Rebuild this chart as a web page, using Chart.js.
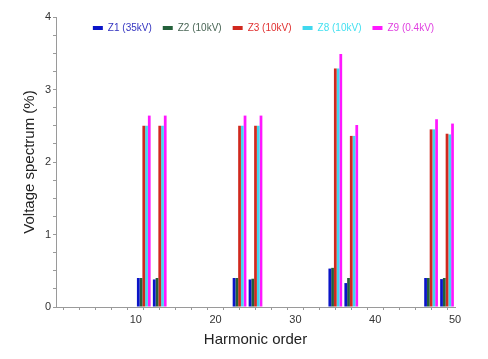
<!DOCTYPE html>
<html>
<head>
<meta charset="utf-8">
<script src="https://cdn.jsdelivr.net/npm/chart.js@4"></script>
<style>
  html, body { margin: 0; padding: 0; background: #fff; }
  #wrap { width: 488px; height: 359px; }
</style>
</head>
<body>
<div id="wrap"><canvas id="c" width="488" height="359"></canvas></div>
<script>
const harmonics = [11, 13, 23, 25, 35, 37, 47, 49];
const z1 = [0.40, 0.38, 0.40, 0.38, 0.53, 0.33, 0.40, 0.385];
const z2 = [0.40, 0.40, 0.40, 0.39, 0.54, 0.40, 0.40, 0.40];
const z3 = [2.50, 2.50, 2.50, 2.50, 3.29, 2.36, 2.45, 2.39];
const z8 = [2.50, 2.50, 2.50, 2.50, 3.29, 2.36, 2.45, 2.38];
const z9 = [2.64, 2.64, 2.64, 2.64, 3.49, 2.51, 2.59, 2.53];
const seriesNames = ['Z1 (35kV)', 'Z2 (10kV)', 'Z3 (10kV)', 'Z8 (10kV)', 'Z9 (0.4kV)'];
const barColors = ['#0a14c8', '#24603a', '#d0281e', '#40d8ee', '#ff18ff'];
const textColors = ['#3434c0', '#4a6656', '#e03030', '#44e0f0', '#e040e0'];
const xTickLabels = [10, 20, 30, 40, 50];
const yTickLabels = [0, 1, 2, 3, 4];

const allSeries = [z1, z2, z3, z8, z9];
const datasets = allSeries.map((vals, i) => ({
  label: seriesNames[i],
  data: harmonics.map((h, j) => ({ x: h, y: vals[j] })),
  backgroundColor: barColors[i],
  borderWidth: 0,
  barPercentage: 1.0,
  categoryPercentage: 0.86
}));

const legendShift = {
  id: 'legendShift',
  afterLayout(chart) {
    const l = chart.legend;
    if (!l) return;
    l.top += 12;
    l.height = 30;
    l.bottom = l.top + 30;
    l.left += 36; l.right += 36;
  }
};

const tickFont = { family: 'Liberation Sans, Arial, sans-serif', size: 11 };
const titleFont = { family: 'Liberation Sans, Arial, sans-serif', size: 15 };

new Chart(document.getElementById('c'), {
  type: 'bar',
  data: { datasets },
  options: {
    responsive: false,
    animation: false,
    devicePixelRatio: 1,
    layout: { padding: { left: 0, right: 33, top: 0, bottom: 0 } },
    plugins: {
      tooltip: { enabled: false },
      legend: {
        position: 'top',
        align: 'center',
        maxHeight: 17,
        labels: {
          boxWidth: 10,
          boxHeight: 4,
          padding: 11,
          font: { family: 'Liberation Sans, Arial, sans-serif', size: 10 },
          generateLabels(chart) {
            return chart.data.datasets.map((ds, i) => ({
              text: ds.label,
              fillStyle: barColors[i],
              strokeStyle: barColors[i],
              lineWidth: 0,
              fontColor: textColors[i],
              hidden: false,
              datasetIndex: i
            }));
          }
        }
      }
    },
    scales: {
      x: {
        type: 'linear',
        min: 0,
        max: 50,
        offset: false,
        grid: { drawOnChartArea: false, color: '#9a9a9a', tickLength: 3 },
        border: { color: '#9a9a9a', width: 1 },
        ticks: {
          stepSize: 2,
          autoSkip: false,
          maxRotation: 0,
          padding: 3,
          color: '#333',
          font: tickFont,
          callback: (v) => xTickLabels.includes(v) ? String(v) : ''
        },
        title: {
          display: true,
          text: 'Harmonic order',
          color: '#222',
          font: titleFont,
          padding: { top: 0, bottom: 10 }
        },
        afterFit(scale) { scale.height = 52; }
      },
      y: {
        min: 0,
        max: 4,
        grid: { drawOnChartArea: false, color: '#9a9a9a', tickLength: 3 },
        border: { color: '#9a9a9a', width: 1 },
        ticks: {
          stepSize: 0.25,
          autoSkip: false,
          padding: 2,
          color: '#333',
          font: tickFont,
          callback: (v) => yTickLabels.includes(v) ? String(v) : ''
        },
        title: {
          display: true,
          text: 'Voltage spectrum (%)',
          color: '#222',
          font: titleFont,
          padding: { top: 21, bottom: 0 }
        },
        afterFit(scale) { scale.width = 56; }
      }
    }
  },
  plugins: [legendShift]
});
</script>
</body>
</html>
